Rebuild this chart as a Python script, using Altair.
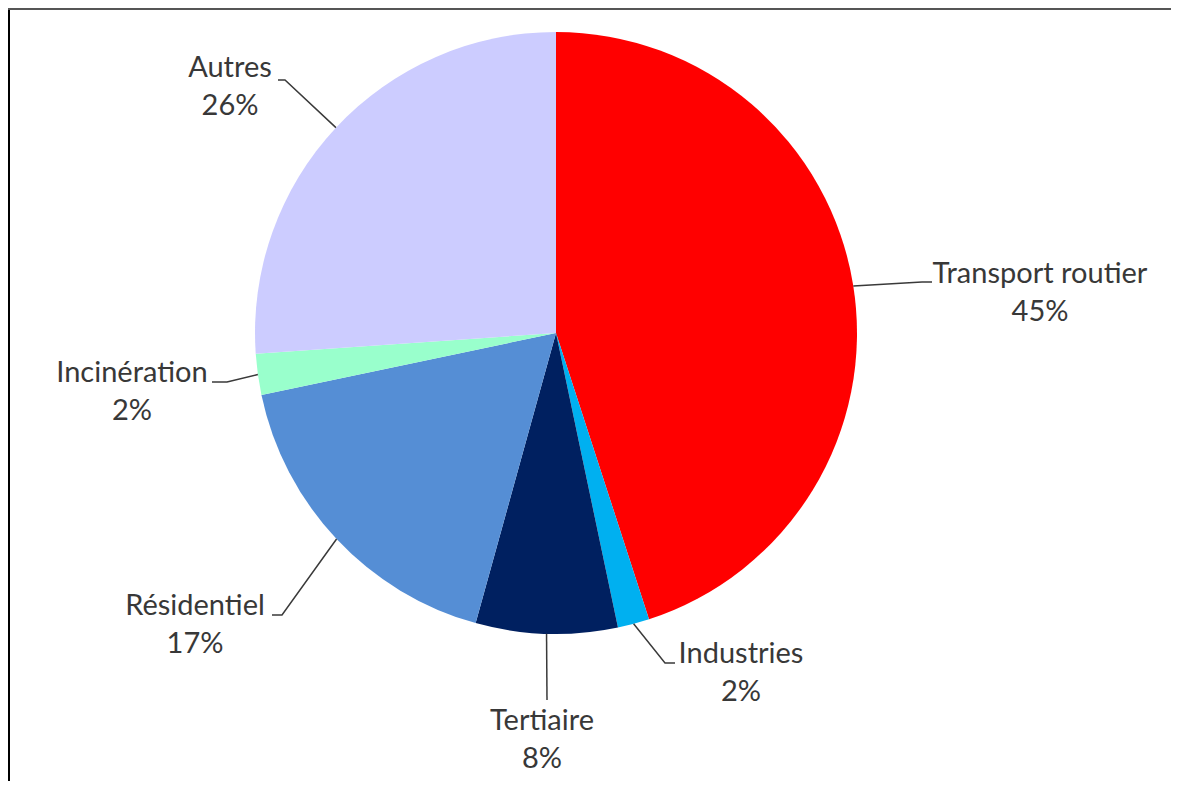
import math
import altair as alt
import pandas as pd

# ---- data ----
categories = ["Transport routier", "Industries", "Tertiaire", "Résidentiel", "Incinération", "Autres"]
shares = [45.0, 1.7, 7.6, 17.4, 2.2, 26.1]
colors = ["#FF0000", "#00B0F0", "#002060", "#558ED5", "#99FFCC", "#CCCCFF"]

# ---- label layout (pixels relative to pie centre, y downward) ----
label_dx = [484, 185, -14, -361, -424, -326]
label_dy = [-50, 330, 397, 282, 49, -256]
elbow_dx = [366, 109, -9, -274, -329, -271]
elbow_dy = [-51, 330, 367, 282, 49, -253]
tail_dx = [10, 10, 0, -10, -15, -7]

W, H = 1163, 773
CX, CY, R = 548, 325, 301

rows, line_rows = [], []
cum = 0.0
total = sum(shares)
for i, (c, v) in enumerate(zip(categories, shares)):
    a0 = cum / total * 360
    cum += v
    a1 = cum / total * 360
    mid = math.radians((a0 + a1) / 2)
    rows.append({
        "cat": c, "value": v, "idx": i,
        "label": [c, f"{round(v)}%"],
        "lx": CX + label_dx[i], "ly": CY + label_dy[i],
    })
    ex, ey = CX + R * math.sin(mid), CY - R * math.cos(mid)
    bx, by = CX + elbow_dx[i], CY + elbow_dy[i]
    line_rows += [
        {"cat": c, "k": 0, "x": ex, "y": ey},
        {"cat": c, "k": 1, "x": bx, "y": by},
        {"cat": c, "k": 2, "x": bx + tail_dx[i], "y": by},
    ]

df = pd.DataFrame(rows)
lines = pd.DataFrame(line_rows)

xs = alt.Scale(domain=[0, W], nice=False, zero=False)
ys = alt.Scale(domain=[0, H], nice=False, zero=False, reverse=True)

pie = alt.Chart(df).mark_arc(outerRadius=R).encode(
    theta=alt.Theta("value:Q", stack=True),
    color=alt.Color("cat:N", scale=alt.Scale(domain=categories, range=colors), legend=None),
    order=alt.Order("idx:Q"),
    x=alt.XDatum(CX, type="quantitative", scale=xs, axis=None),
    y=alt.YDatum(CY, type="quantitative", scale=ys, axis=None),
)

leaders = alt.Chart(lines).mark_line(color="#3a3a3a", strokeWidth=1.5).encode(
    x=alt.X("x:Q", scale=xs, axis=None),
    y=alt.Y("y:Q", scale=ys, axis=None),
    detail="cat:N",
    order="k:Q",
)

labels = alt.Chart(df).mark_text(
    font="Lato", fontSize=29, color="#383838", align="center",
    baseline="alphabetic", lineHeight=38,
).encode(
    x=alt.X("lx:Q", scale=xs, axis=None),
    y=alt.Y("ly:Q", scale=ys, axis=None),
    text="label",
)

frame_left = alt.Chart(df).mark_rule(color="#000000", strokeWidth=2.5).encode(
    x=alt.value(0.5), y=alt.value(0), y2=alt.value(H)
)
frame_top = alt.Chart(df).mark_rule(color="#555555", strokeWidth=2).encode(
    y=alt.value(0.5), x=alt.value(0), x2=alt.value(W)
)

chart = alt.layer(pie, leaders, labels, frame_left, frame_top).properties(
    width=W, height=H, padding=0, autosize=alt.AutoSizeParams(type="none"),
    background="white",
).configure_view(stroke=None)

chart.save("out.html", embed_options={"renderer": "svg", "actions": False})
